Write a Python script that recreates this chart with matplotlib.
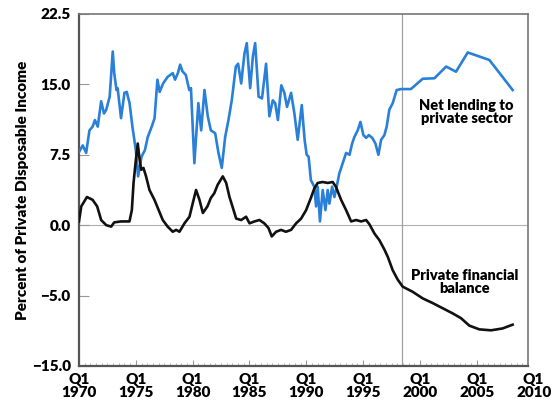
import matplotlib.pyplot as plt
from matplotlib.ticker import MultipleLocator
import matplotlib.transforms as mtransforms

plt.rcParams['font.family'] = ['Lato', 'DejaVu Sans']
plt.rcParams['font.weight'] = 'heavy'
plt.rcParams['axes.labelweight'] = 'heavy'

# Net lending to private sector (percent of private disposable income)
lend_t = [1970.0, 1970.33, 1970.63, 1970.92, 1971.2, 1971.4, 1971.65, 1971.95, 1972.2, 1972.4,
          1972.7, 1972.97, 1973.1, 1973.3, 1973.4, 1973.7, 1974.0, 1974.2, 1974.45, 1974.7,
          1975.0, 1975.2, 1975.5, 1975.8, 1976.05, 1976.4, 1976.65, 1976.9, 1977.1, 1977.4,
          1977.8, 1978.25, 1978.45, 1978.7, 1978.9, 1979.1, 1979.4, 1979.7, 1979.85, 1980.15,
          1980.5, 1980.75, 1981.04, 1981.33, 1981.6, 1981.98, 1982.27, 1982.56, 1982.86, 1983.15,
          1983.44, 1983.8, 1984.0, 1984.27, 1984.56, 1984.76, 1985.06, 1985.3, 1985.5, 1985.8,
          1986.1, 1986.46, 1986.75, 1987.05, 1987.26, 1987.5, 1987.8, 1988.07, 1988.3, 1988.66,
          1988.95, 1989.24, 1989.6, 1989.85, 1990.03, 1990.2, 1990.4, 1990.7, 1990.86, 1991.0,
          1991.2, 1991.44, 1991.68, 1991.88, 1992.03, 1992.27, 1992.47, 1992.67, 1992.9, 1993.2,
          1993.5, 1993.8, 1994.03, 1994.23, 1994.52, 1994.76, 1995.02, 1995.26, 1995.5, 1995.8,
          1996.08, 1996.34, 1996.58, 1996.87, 1997.07, 1997.3, 1997.6, 1997.95, 1998.34, 1999.2,
          2000.24, 2001.27, 2002.3, 2003.17, 2004.2, 2006.1, 2007.13, 2008.15]
lend_v = [7.8, 8.5, 7.7, 10.1, 10.5, 11.2, 10.5, 13.2, 11.9, 12.3,
          13.7, 18.5, 16.2, 14.4, 14.6, 11.4, 14.1, 14.2, 13.0, 10.5,
          8.0, 5.2, 7.3, 8.0, 9.4, 10.5, 11.4, 15.5, 14.2, 15.1,
          15.8, 16.2, 15.5, 16.2, 17.1, 16.4, 16.0, 14.4, 14.6, 6.6,
          13.0, 10.1, 14.4, 11.6, 10.1, 9.8, 7.7, 6.1, 9.4, 11.2,
          13.3, 16.9, 17.2, 15.1, 18.3, 19.4, 14.6, 18.0, 19.4, 13.7,
          13.5, 17.2, 11.6, 13.3, 13.0, 11.2, 14.9, 14.1, 12.6, 14.1,
          11.9, 9.1, 12.8, 9.1, 7.5, 7.3, 4.8, 4.1, 2.0, 4.1,
          0.4, 3.75, 1.6, 3.75, 2.3, 4.1, 3.0, 4.1, 5.5, 6.6,
          7.7, 7.5, 8.7, 9.4, 10.1, 11.0, 9.6, 9.3, 9.6, 9.3,
          8.7, 7.5, 9.1, 9.6, 10.5, 12.3, 13.0, 14.4, 14.5, 14.5,
          15.6, 15.65, 16.9, 16.35, 18.4, 17.6, 16.0, 14.4]

# Private financial balance
bal_t = [1970.0, 1970.2, 1970.7, 1971.2, 1971.6, 1971.95, 1972.4, 1972.83, 1973.1, 1973.7,
         1974.44, 1974.65, 1974.8, 1975.0, 1975.17, 1975.3, 1975.47, 1975.67, 1975.9, 1976.2,
         1976.64, 1977.08, 1977.37, 1977.8, 1978.25, 1978.55, 1978.84, 1979.28, 1979.72, 1980.0,
         1980.3, 1980.6, 1980.9, 1981.3, 1981.6, 1981.9, 1982.2, 1982.65, 1982.95, 1983.24,
         1983.5, 1983.83, 1984.27, 1984.7, 1985.0, 1985.44, 1985.88, 1986.3, 1986.67, 1986.96,
         1987.34, 1987.78, 1988.2, 1988.66, 1989.1, 1989.54, 1989.98, 1990.4, 1990.7, 1991.0,
         1991.44, 1991.88, 1992.32, 1992.6, 1993.06, 1993.5, 1993.94, 1994.38, 1994.82, 1995.26,
         1995.55, 1996.0, 1996.43, 1996.87, 1997.16, 1997.6, 1998.04, 1998.48, 1999.36, 2000.24,
         2001.12, 2002.0, 2002.88, 2003.6, 2004.34, 2005.22, 2006.25, 2007.27, 2008.15]
bal_v = [0.4, 2.0, 3.0, 2.7, 2.0, 0.55, 0.0, -0.15, 0.3, 0.4,
         0.4, 1.6, 4.5, 6.9, 8.7, 7.3, 5.9, 6.1, 5.2, 3.75,
         2.7, 1.4, 0.55, -0.15, -0.7, -0.5, -0.7, 0.2, 0.9, 2.3,
         3.75, 2.7, 1.3, 2.0, 2.9, 3.4, 4.3, 5.2, 4.5, 3.0,
         2.0, 0.7, 0.55, 0.9, 0.2, 0.4, 0.55, 0.2, -0.3, -1.2,
         -0.7, -0.5, -0.7, -0.5, 0.2, 0.7, 1.6, 2.9, 3.9, 4.5,
         4.6, 4.5, 4.6, 4.1, 2.7, 1.6, 0.4, 0.55, 0.4, 0.55,
         0.1, -0.9, -1.6, -2.6, -3.35, -4.8, -5.8, -6.55, -7.1, -7.8,
         -8.3, -8.85, -9.4, -9.9, -10.7, -11.1, -11.2, -11.0, -10.6]

year_ticks = [1970, 1975, 1980, 1985, 1990, 1995, 2000, 2005]
year_labels = ['Q1\n%d' % y for y in year_ticks]
y_ticks = [22.5, 15.0, 7.5, 0.0, -7.5, -15.0]
y_labels = ['22.5', '15.0', '7.5', '0.0', '\u22125.0', '\u221215.0']

fig = plt.figure(figsize=(5.59, 4.04), dpi=100)
ax = fig.add_axes([0.1413, 0.0941, 0.8032, 0.8713])

ax.axhline(0, color='#b0b0b0', lw=0.8, zorder=1)
ax.axvline(1998.4, color='#a0a0a0', lw=0.9, zorder=1)

ax.plot(lend_t, lend_v, color='#2a80d8', lw=1.9, zorder=3)
ax.plot(bal_t, bal_v, color='#111111', lw=1.9, zorder=4)

ax.set_xlim(1970, 2009.5)
ax.set_ylim(-15, 22.5)

ax.set_xticks(year_ticks)
ax.set_xticklabels(year_labels, fontsize=11, linespacing=1.0)
ax.xaxis.set_minor_locator(MultipleLocator(0.5))
ax.tick_params(axis='x', which='major', direction='in', length=4, color='#999999', pad=5)
ax.tick_params(axis='x', which='minor', direction='in', length=2.5, color='#aaaaaa')

# the last label sits just past the end of the axis
trans = mtransforms.blended_transform_factory(ax.transData, ax.transAxes)
trans = trans + mtransforms.ScaledTranslation(0, -5 / 72, fig.dpi_scale_trans)
ax.text(2010, 0, 'Q1\n2010', transform=trans, ha='center', va='top',
        fontsize=11, linespacing=1.0, clip_on=False)

ax.set_yticks(y_ticks)
ax.set_yticklabels(y_labels, fontsize=11)
ax.tick_params(axis='y', direction='in', length=7, color='#999999', pad=6)

ax.set_ylabel('Percent of Private Disposable Income', fontsize=11, labelpad=2)

for side in ['left', 'bottom']:
    ax.spines[side].set_color('#555555')
    ax.spines[side].set_linewidth(1.6)
for side in ['top', 'right']:
    ax.spines[side].set_color('#777777')
    ax.spines[side].set_linewidth(1.2)

ax.text(2004.1, 12.1, 'Net lending to\nprivate sector', ha='center', va='center',
        fontsize=10.5, linespacing=1.0)
ax.text(2003.9, -6.05, 'Private financial\nbalance', ha='center', va='center',
        fontsize=10.5, linespacing=1.0)

fig.savefig('out.png', dpi=100)
